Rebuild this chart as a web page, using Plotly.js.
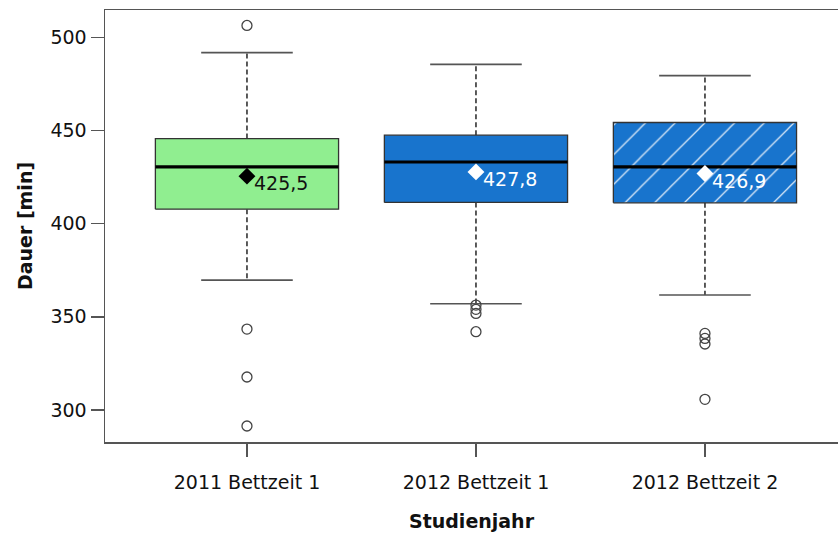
<!DOCTYPE html>
<html>
<head>
<meta charset="utf-8">
<script src="https://cdn.plot.ly/plotly-3.0.1.min.js"></script>
<style>
html,body{margin:0;padding:0;background:#fff;}
#chart{width:838px;height:541px;}
</style>
</head>
<body>
<div id="chart"></div>
<script>
// ---- data ----
var categories = ['2011 Bettzeit 1', '2012 Bettzeit 1', '2012 Bettzeit 2'];
var q1Values = [407.8, 411.4, 411.2];
var medianValues = [430.5, 433.1, 430.5];
var q3Values = [445.7, 447.5, 454.3];
var lowerWhiskers = [369.7, 357.0, 361.7];
var upperWhiskers = [491.8, 485.5, 479.5];
var meanValues = [425.5, 427.8, 426.9];
var meanLabels = ['425,5', '427,8', '426,9'];
var outliers1 = [506.4, 343.4, 317.7, 291.4];
var outliers2 = [356.3, 354.0, 351.8, 342.0];
var outliers3 = [341.1, 338.4, 335.4, 305.7];
var yTicks = [300, 350, 400, 450, 500];

// ---- styles ----
var boxFill = ['#90EE90', '#1874CD', '#1874CD'];
var meanColor = ['#000000', '#ffffff', '#ffffff'];
var hatched = [false, false, true];
var outlierSets = [outliers1, outliers2, outliers3];
var halfW = 0.4, capHalf = 0.2;
var FONT = 'DejaVu Sans, Verdana, sans-serif';
var TXT = '#111111';

var traces = [];
var annotations = [];
categories.forEach(function (cat, i) {
  var p = i + 1;
  // whiskers (dashed)
  traces.push({
    type: 'scatter', mode: 'lines', hoverinfo: 'skip', showlegend: false,
    x: [p, p, null, p, p],
    y: [q3Values[i], upperWhiskers[i], null, q1Values[i], lowerWhiskers[i]],
    line: {color: '#333333', width: 1.6, dash: '5px,3px'}
  });
  // caps
  traces.push({
    type: 'scatter', mode: 'lines', hoverinfo: 'skip', showlegend: false,
    x: [p - capHalf, p + capHalf, null, p - capHalf, p + capHalf],
    y: [upperWhiskers[i], upperWhiskers[i], null, lowerWhiskers[i], lowerWhiskers[i]],
    line: {color: '#555555', width: 1.7}
  });
  // box
  var box = {
    type: 'scatter', mode: 'lines', hoverinfo: 'skip', showlegend: false,
    x: [p - halfW, p + halfW, p + halfW, p - halfW, p - halfW],
    y: [q1Values[i], q1Values[i], q3Values[i], q3Values[i], q1Values[i]],
    fill: 'toself', fillcolor: boxFill[i],
    line: {color: '#333333', width: 1.3}
  };
  if (hatched[i]) {
    box.fillpattern = {shape: '/', fgcolor: 'rgba(255,255,255,0.85)', bgcolor: boxFill[i], size: 21, solidity: 0.06};
  }
  traces.push(box);
  // median
  traces.push({
    type: 'scatter', mode: 'lines', hoverinfo: 'skip', showlegend: false,
    x: [p - halfW, p + halfW],
    y: [medianValues[i], medianValues[i]],
    line: {color: '#000000', width: 3.2}
  });
  // outliers
  traces.push({
    type: 'scatter', mode: 'markers', hoverinfo: 'skip', showlegend: false,
    x: outlierSets[i].map(function () { return p; }),
    y: outlierSets[i],
    marker: {symbol: 'circle-open', size: 10, color: '#444444', line: {width: 1.3, color: '#444444'}}
  });
  // mean
  traces.push({
    type: 'scatter', mode: 'markers', hoverinfo: 'skip', showlegend: false,
    x: [p], y: [meanValues[i]],
    marker: {symbol: 'diamond', size: 13, color: meanColor[i]}
  });
  annotations.push({
    x: p, y: meanValues[i], xref: 'x', yref: 'y',
    text: meanLabels[i], showarrow: false,
    xanchor: 'left', yanchor: 'middle', xshift: 5, yshift: -7,
    font: {family: FONT, size: 19, color: meanColor[i] === '#000000' ? TXT : meanColor[i]}
  });
});

var layout = {
  width: 838, height: 541,
  margin: {l: 105, r: 0, t: 10, b: 99},
  paper_bgcolor: '#ffffff', plot_bgcolor: '#ffffff',
  showlegend: false,
  font: {family: FONT, size: 19, color: TXT},
  xaxis: {
    range: [0.38, 3.581], tickvals: [1, 2, 3], ticktext: categories,
    showgrid: false, zeroline: false,
    showline: true, mirror: true, linecolor: '#555555', linewidth: 1.5,
    ticks: 'outside', ticklen: 13, tickwidth: 1.5, tickcolor: '#555555',
    ticklabelstandoff: 10,
    tickfont: {family: FONT, size: 19, color: TXT},
    title: {text: '<b>Studienjahr</b>', font: {family: FONT, size: 19, color: TXT}, standoff: 22}
  },
  yaxis: {
    range: [282.8, 514.7], tickvals: yTicks, ticktext: yTicks.map(String),
    showgrid: false, zeroline: false,
    showline: true, mirror: false, linecolor: '#555555', linewidth: 1.5,
    ticks: 'outside', ticklen: 13, tickwidth: 1.5, tickcolor: '#555555',
    tickfont: {family: FONT, size: 19, color: TXT},
    title: {text: '<b>Dauer [min]</b>', font: {family: FONT, size: 19, color: TXT}, standoff: 13}
  },
  annotations: annotations
};

Plotly.newPlot('chart', traces, layout, {staticPlot: true, displayModeBar: false});
</script>
</body>
</html>
